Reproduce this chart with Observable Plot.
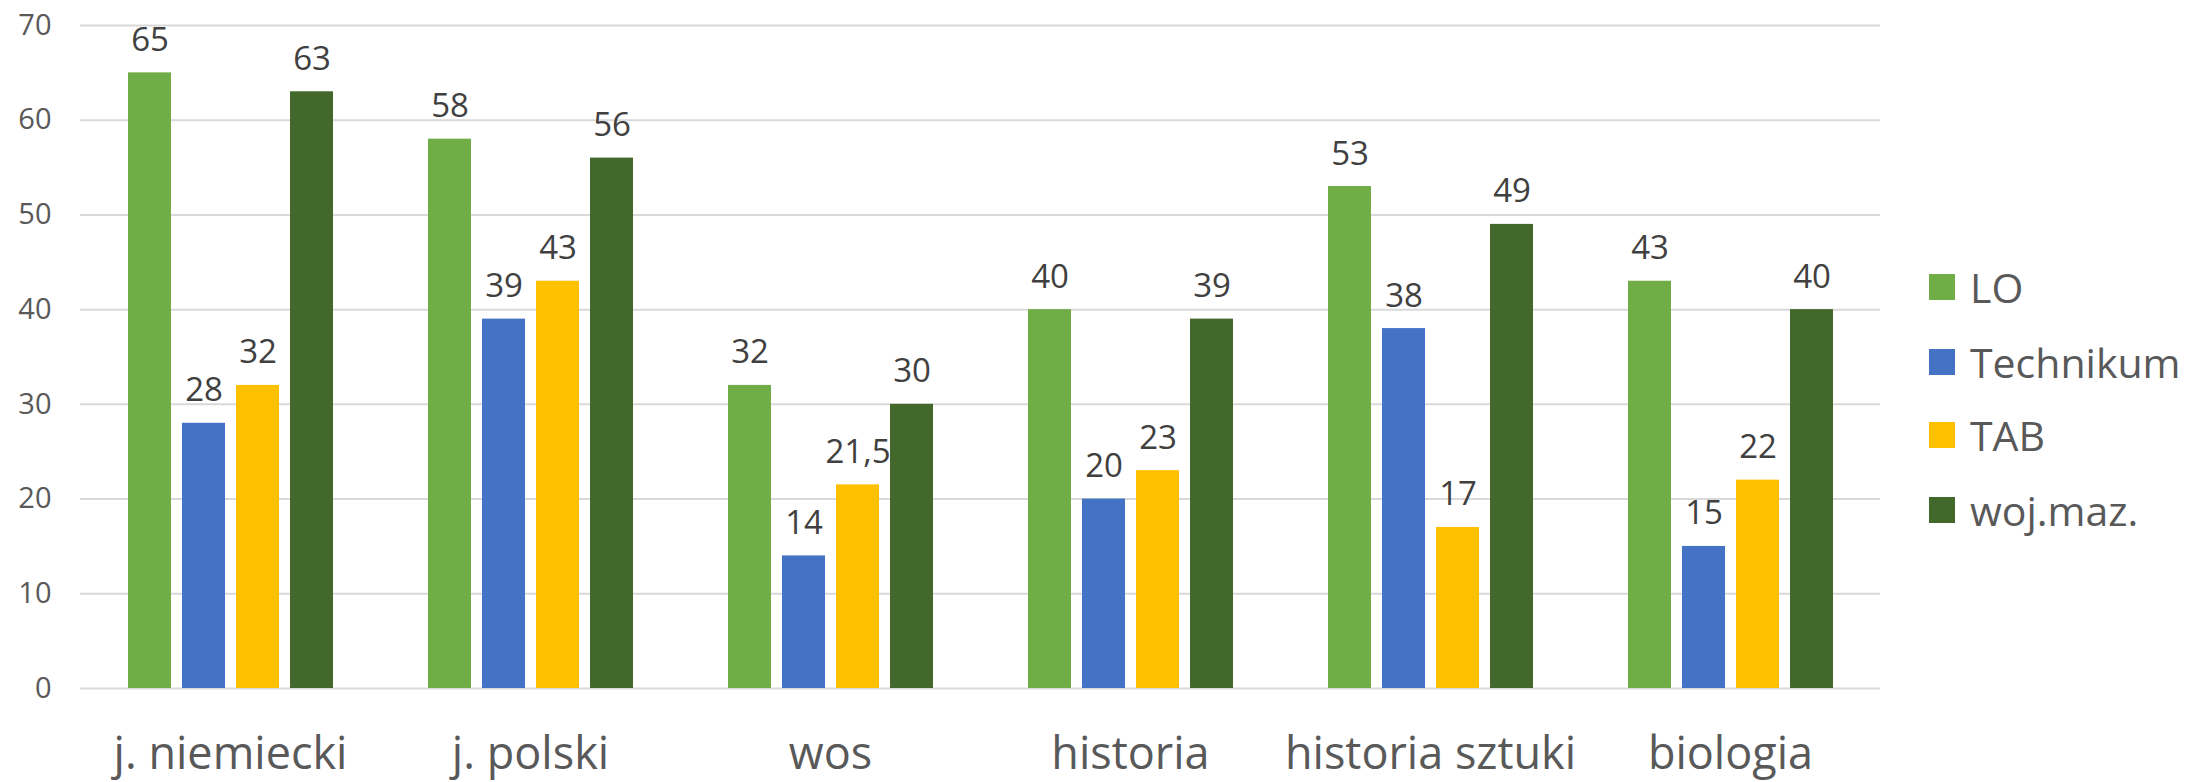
<!DOCTYPE html>
<html>
<head>
<meta charset="utf-8">
<script src="https://cdn.jsdelivr.net/npm/d3@7"></script>
<script src="https://cdn.jsdelivr.net/npm/@observablehq/plot@0.6"></script>
<style>
  html, body { margin: 0; padding: 0; background: #fff; }
  #wrap { position: relative; width: 2188px; height: 782px; overflow: hidden; font-family: "Open Sans", sans-serif; }
  #legend { position: absolute; left: 1929px; top: 0; }
  .item { position: absolute; left: 0; display: flex; align-items: center; height: 60px; white-space: nowrap; }
  .sw { width: 26px; height: 26px; margin-right: 15px; }
  .lab { font-size: 41px; color: #595959; }
</style>
</head>
<body>
<div id="wrap"><div id="legend"></div></div>
<script>
const subjects = ["j. niemiecki", "j. polski", "wos", "historia", "historia sztuki", "biologia"];
const seriesNames = ["LO", "Technikum", "TAB", "woj.maz."];
const seriesColors = ["#70AD47", "#4472C4", "#FFC000", "#43682B"];
const valuesLO = [65, 58, 32, 40, 53, 43];
const valuesTechnikum = [28, 39, 14, 20, 38, 15];
const valuesTAB = [32, 43, 21.5, 23, 17, 22];
const valuesWoj = [63, 56, 30, 39, 49, 40];
const yTicks = [0, 10, 20, 30, 40, 50, 60, 70];

const seriesValues = [valuesLO, valuesTechnikum, valuesTAB, valuesWoj];
const data = [];
subjects.forEach((s, i) => {
  seriesNames.forEach((n, j) => data.push({subject: s, series: n, value: seriesValues[j][i]}));
});

const chart = Plot.plot({
  width: 2188,
  height: 782,
  marginLeft: 80,
  marginRight: 308,
  marginTop: 25,
  marginBottom: 94,
  style: {fontFamily: "'Open Sans', sans-serif", background: "#fff"},
  fx: {domain: subjects, padding: 0, label: null},
  x: {domain: seriesNames, paddingInner: 0.21, paddingOuter: 0.85, axis: null},
  y: {domain: [0, 70], label: null},
  color: {domain: seriesNames, range: seriesColors},
  marks: [
    Plot.gridY(yTicks, {stroke: "#d9d9d9", strokeOpacity: 1, strokeWidth: 2}),
    Plot.axisY(yTicks, {tickSize: 0, tickPadding: 29, fontSize: 29, fill: "#595959", label: null}),
    Plot.axisFx({anchor: "bottom", tickSize: 0, tickPadding: 49, fontSize: 45, fill: "#595959", label: null}),
    Plot.barY(data, {fx: "subject", x: "series", y: "value", fill: "series"}),
    Plot.text(data, {
      fx: "subject", x: "series", y: "value",
      text: d => String(d.value).replace(".", ","),
      lineAnchor: "bottom", dy: -22, fontSize: 33, fill: "#404040"
    })
  ]
});
document.getElementById("wrap").prepend(chart);

const legend = document.getElementById("legend");
const rowCenters = [287, 362, 435, 510];
seriesNames.forEach((n, i) => {
  const item = document.createElement("div");
  item.className = "item";
  item.style.top = (rowCenters[i] - 30) + "px";
  item.innerHTML = `<div class="sw" style="background:${seriesColors[i]}"></div><span class="lab">${n}</span>`;
  legend.appendChild(item);
});
</script>
</body>
</html>
